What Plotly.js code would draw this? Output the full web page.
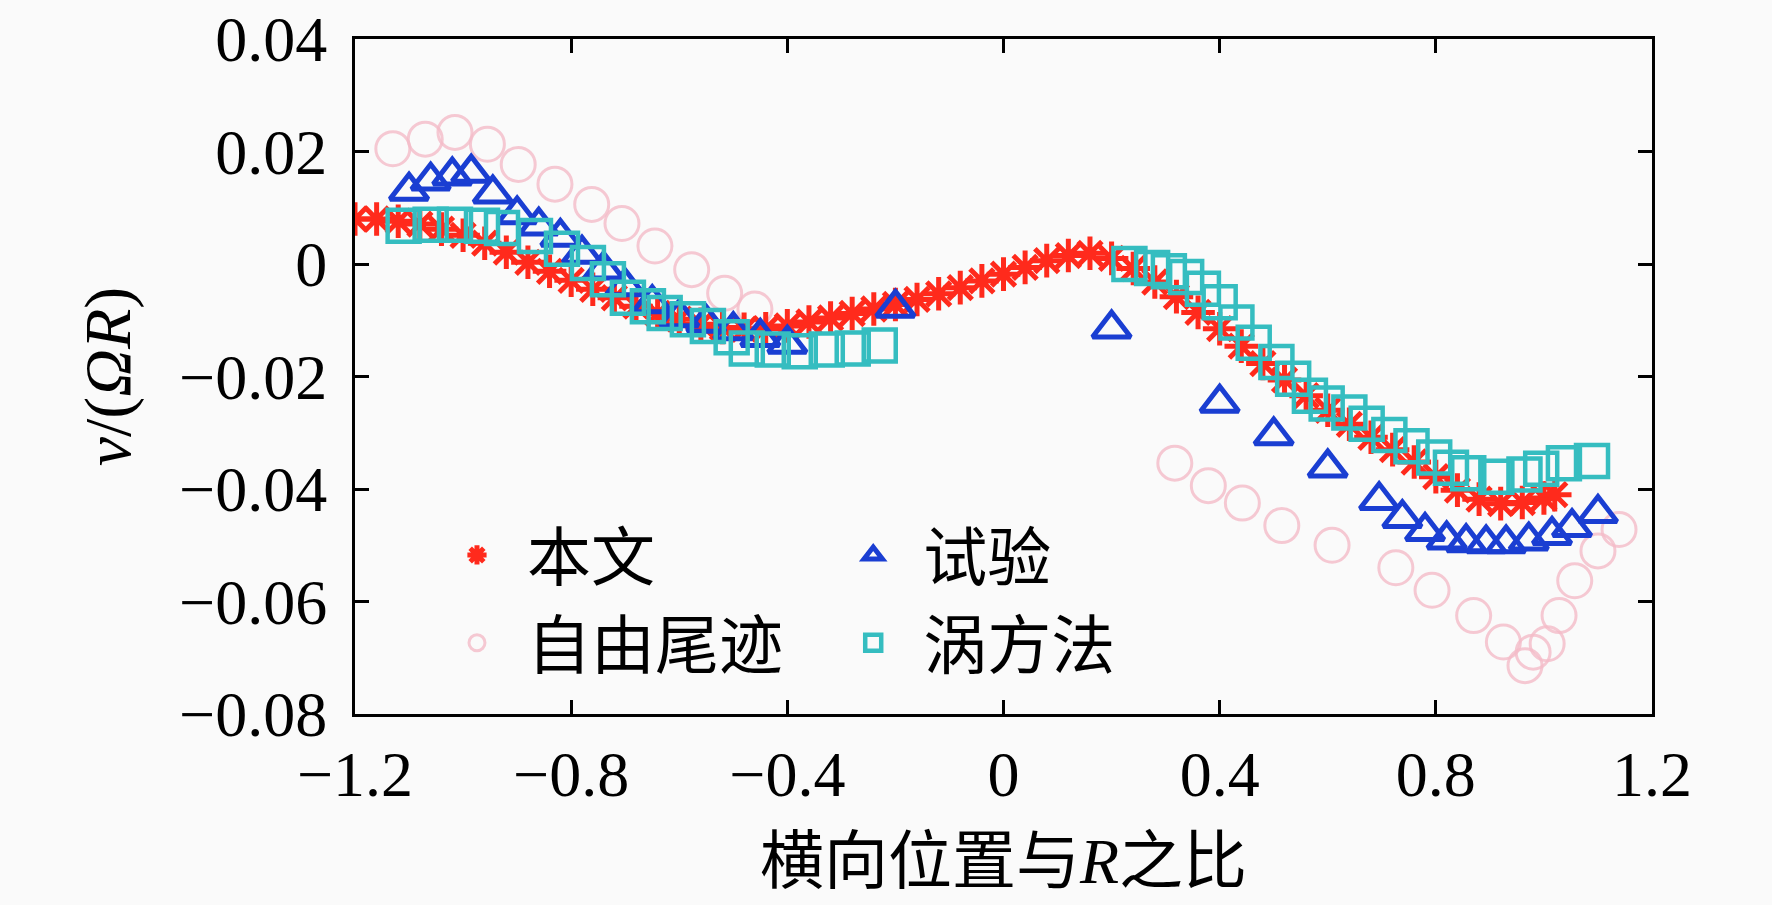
<!DOCTYPE html>
<html>
<head>
<meta charset="utf-8">
<script src="https://cdn.plot.ly/plotly-3.0.1.min.js"></script>
<style>
  html, body { margin: 0; padding: 0; background: #fafafa; }
  #plot { width: 1772px; height: 905px; }
</style>
</head>
<body>
<div id="plot"></div>
<script>
// 本文 (red asterisks)
const xModel = [-1.20, -1.16, -1.12, -1.08, -1.04, -1.00, -0.96, -0.92, -0.88, -0.84,
                -0.80, -0.76, -0.72, -0.68, -0.64, -0.60, -0.56, -0.52, -0.48, -0.44,
                -0.40, -0.36, -0.32, -0.28, -0.24, -0.20, -0.16, -0.12, -0.08, -0.04,
                 0.00,  0.04,  0.08,  0.12,  0.16,  0.20,  0.24,  0.28,  0.32,  0.36,
                 0.40,  0.44,  0.48,  0.52,  0.56,  0.60,  0.64,  0.68,  0.72,  0.76,
                 0.80,  0.84,  0.88,  0.92,  0.96,  1.00,  1.02];
const yModel = [0.0080, 0.0080, 0.0076, 0.0071, 0.0062, 0.0051, 0.0037, 0.0021, 0.0003, -0.0013,
                -0.0029, -0.0045, -0.0060, -0.0075, -0.0088, -0.0098, -0.0107, -0.0113, -0.0116, -0.0115,
                -0.0110, -0.0103, -0.0096, -0.0088, -0.0080, -0.0072, -0.0063, -0.0053, -0.0042, -0.0030,
                -0.0018, -0.0006, 0.0006, 0.0015, 0.0019, 0.0010, -0.0008, -0.0032, -0.0058, -0.0086,
                -0.0115, -0.0146, -0.0177, -0.0206, -0.0234, -0.0260, -0.0285, -0.0308, -0.0330, -0.0352,
                -0.0378, -0.0402, -0.0418, -0.0426, -0.0424, -0.0416, -0.0410];

// 自由尾迹 (pink circles)
const xWake = [-1.13, -1.07, -1.015, -0.955, -0.898, -0.83, -0.762, -0.706, -0.645, -0.577, -0.516, -0.46,
               0.317, 0.379, 0.442, 0.515, 0.608, 0.726, 0.793, 0.87, 0.925, 0.965, 0.98, 1.006, 1.028, 1.057, 1.10, 1.139];
const yWake = [0.0205, 0.0222, 0.0234, 0.0213, 0.0177, 0.0142, 0.0106, 0.0072, 0.0032, -0.0010, -0.0052, -0.0080,
               -0.0354, -0.0394, -0.0425, -0.0465, -0.0500, -0.0540, -0.0580, -0.0625, -0.0672, -0.0714, -0.0690, -0.0675, -0.0625, -0.0563, -0.0510, -0.0472];

// 试验 (blue triangles)
const xTest = [-1.10, -1.06, -1.02, -0.985, -0.945, -0.90, -0.86, -0.82, -0.78, -0.74, -0.70, -0.65,
               -0.60, -0.55, -0.50, -0.45, -0.40, -0.20,
               0.20, 0.40, 0.50, 0.60, 0.695, 0.738, 0.78, 0.82, 0.856, 0.893, 0.93, 0.972, 1.015, 1.052, 1.10];
const yTest = [0.0130, 0.0148, 0.0157, 0.0162, 0.0125, 0.0088, 0.0068, 0.0048, 0.0018, -0.0010, -0.0040, -0.0070,
               -0.0095, -0.0105, -0.0118, -0.0130, -0.0142, -0.0078,
               -0.0115, -0.0247, -0.0305, -0.0362, -0.0420, -0.0452, -0.0475, -0.0490, -0.0495, -0.0497, -0.0497, -0.0492, -0.0482, -0.0468, -0.0443];

// 涡方法 (teal squares)
const xVortex = [-1.11, -1.06, -1.015, -0.965, -0.928, -0.867, -0.817, -0.769, -0.732, -0.695, -0.658, -0.627,
                 -0.584, -0.547, -0.503, -0.475, -0.427, -0.377, -0.327, -0.279, -0.229,
                 0.233, 0.275, 0.306, 0.338, 0.369, 0.40, 0.431, 0.463, 0.505, 0.536, 0.567, 0.598,
                 0.64, 0.672, 0.714, 0.755, 0.797, 0.828, 0.86, 0.912, 0.964, 0.995, 1.037, 1.089];
const yVortex = [0.0068, 0.0070, 0.0070, 0.0068, 0.0064, 0.0050, 0.0027, 0.0002, -0.0027, -0.0060, -0.0075, -0.0087,
                 -0.0098, -0.0110, -0.0130, -0.0150, -0.0152, -0.0155, -0.0152, -0.0150, -0.0145,
                 0.0000, -0.0007, -0.0013, -0.0023, -0.0044, -0.0068, -0.0104, -0.0140, -0.0174, -0.0204, -0.0234, -0.0248,
                 -0.0264, -0.0284, -0.0304, -0.0324, -0.0344, -0.0362, -0.0372, -0.0378, -0.0374, -0.0364, -0.0354, -0.0350];

const serif = 'Liberation Serif, Times New Roman, Noto Sans CJK SC, serif';
const cjk = 'Liberation Serif, Noto Sans CJK SC, serif';

const data = [
  {
    x: xWake, y: yWake, type: 'scatter', mode: 'markers', name: '自由尾迹', legend: 'legend3',
    marker: { symbol: 'circle-open', size: 34, color: 'rgba(244,188,200,0.8)', line: { width: 3, color: 'rgba(244,188,200,0.8)' } }
  },
  {
    x: xModel, y: yModel, type: 'scatter', mode: 'markers', name: '本文', legend: 'legend',
    marker: { symbol: 'asterisk-open', size: 28, color: '#ff2a1c', line: { width: 5, color: '#ff2a1c' } }
  },
  {
    x: xTest, y: yTest, type: 'scatter', mode: 'markers', name: '试验', legend: 'legend2',
    marker: { symbol: 'triangle-up-open', size: 33, color: '#1a3ed2', line: { width: 5, color: '#1a3ed2' } }
  },
  {
    x: xVortex, y: yVortex, type: 'scatter', mode: 'markers', name: '涡方法', legend: 'legend4',
    marker: { symbol: 'square-open', size: 32, color: '#35bdc0', line: { width: 4.5, color: '#35bdc0' } }
  }
];

function legendAt(x, y) {
  return {
    x: x, y: y, xref: 'paper', yref: 'paper', xanchor: 'left', yanchor: 'middle',
    bgcolor: 'rgba(0,0,0,0)', borderwidth: 0, itemwidth: 90,
    font: { family: cjk, size: 64, color: '#000' }
  };
}

const axisCommon = {
  showgrid: false, zeroline: false, showline: true, linecolor: '#000', linewidth: 3,
  mirror: 'ticks', ticks: 'inside', ticklen: 14, tickwidth: 3, tickcolor: '#000',
  ticklabeloverflow: 'allow',
  tickfont: { family: serif, size: 64, color: '#000' }
};

const layout = {
  width: 1772, height: 905,
  paper_bgcolor: '#fafafa', plot_bgcolor: '#fafafa',
  margin: { l: 355, r: 120, t: 39, b: 191 },
  showlegend: true,
  legend: legendAt(0.0555, 0.235),
  legend2: legendAt(0.361, 0.235),
  legend3: legendAt(0.0555, 0.105),
  legend4: legendAt(0.361, 0.105),
  xaxis: Object.assign({}, axisCommon, {
    range: [-1.2, 1.2], dtick: 0.4, tick0: -1.2, ticklabelstandoff: 2,
    title: { text: '横向位置与<i>R</i>之比', font: { family: cjk, size: 64, color: '#000' }, standoff: 30 }
  }),
  yaxis: Object.assign({}, axisCommon, {
    range: [-0.08, 0.04], dtick: 0.02, tick0: 0, ticklabelstandoff: 12,
    title: { text: '<i>v</i>/(<i>Ω</i><i>R</i>)', font: { family: serif, size: 66, color: '#000' }, standoff: 28 }
  })
};

Plotly.newPlot('plot', data, layout, { displayModeBar: false });
</script>
</body>
</html>
